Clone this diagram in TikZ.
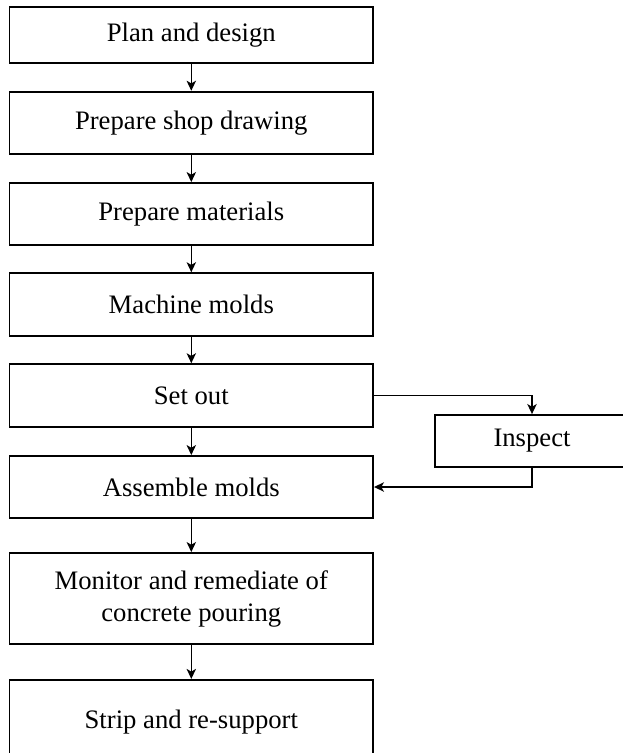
\documentclass[tikz,border=0pt]{standalone}
\usepackage{fontspec}
\setmainfont{Liberation Serif}
\usetikzlibrary{arrows.meta}
\begin{document}
\begin{tikzpicture}[x=0.75pt,y=-0.75pt,
  stepbox/.style={draw, line width=1.35pt, minimum width=272.6pt, inner sep=0pt, align=center, font=\fontsize{20}{24}\selectfont},
  arr/.style={line width=1.2pt, -{Stealth[length=7.5pt,width=7pt,inset=2pt]}}]
\useasboundingbox (0,0) rectangle (622,753);
\node[stepbox, minimum height=42.5pt] (b1) at (191.3,35) {Plan and design};
\node[stepbox, minimum height=47pt] (b2) at (191.3,123) {Prepare shop drawing};
\node[stepbox, minimum height=46.5pt] (b3) at (191.3,214) {Prepare materials};
\node[stepbox, minimum height=47pt] (b4) at (191.3,304.5) {Machine molds};
\node[stepbox, minimum height=47pt] (b5) at (191.3,395.5) {Set out};
\node[stepbox, minimum height=46.5pt] (b6) at (191.3,487) {Assemble molds};
\node[stepbox, minimum height=68.3pt] (b7) at (191.3,598.5) {Monitor and remediate of\\concrete pouring};
\node[stepbox, minimum height=64pt] (b8) at (191.3,722.5) {Strip and re-support};
\node[stepbox, minimum width=145.5pt, minimum height=39pt] (insp) at (532,441) {Inspect};
\draw[arr] (b1.south) -- (b2.north);
\draw[arr] (b2.south) -- (b3.north);
\draw[arr] (b3.south) -- (b4.north);
\draw[arr] (b4.south) -- (b5.north);
\draw[arr] (b5.south) -- (b6.north);
\draw[arr] (b6.south) -- (b7.north);
\draw[arr] (b7.south) -- (b8.north);
\draw[arr] (b5.east) -| (insp.north);
\draw[arr] (insp.south) |- (b6.east);
\end{tikzpicture}
\end{document}
